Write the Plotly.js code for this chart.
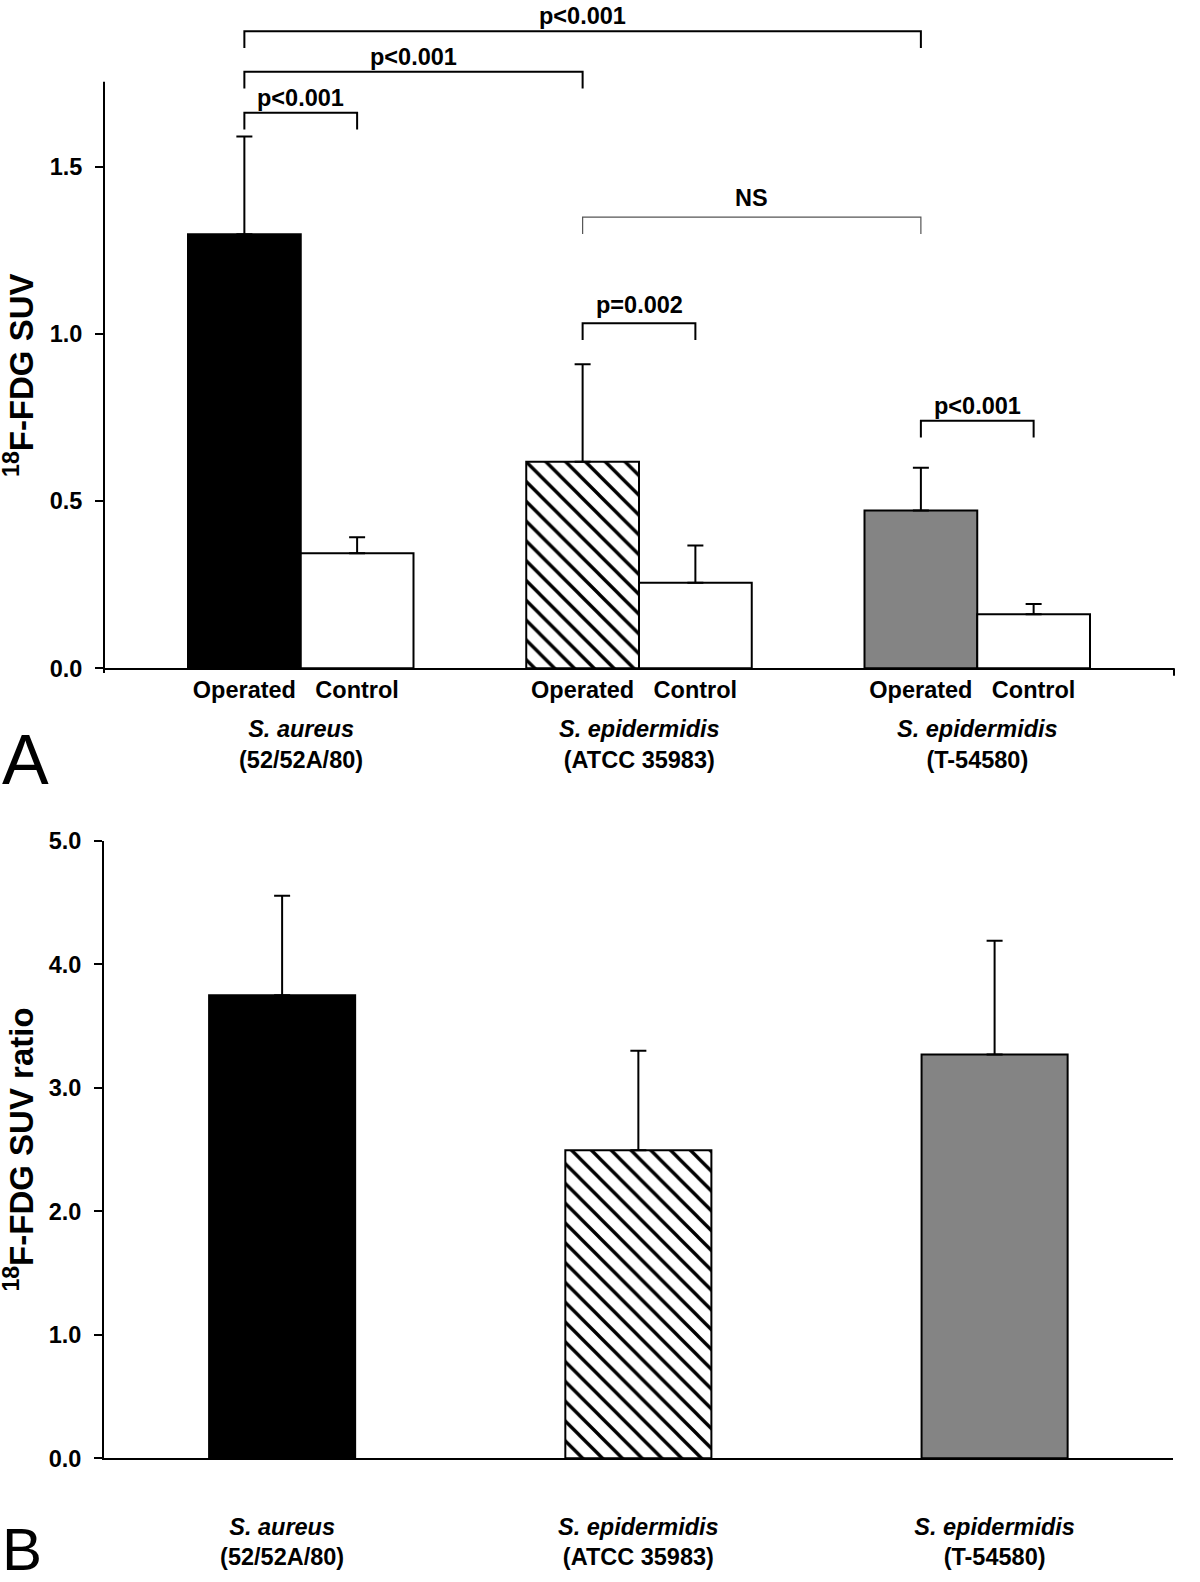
<!DOCTYPE html>
<html>
<head>
<meta charset="utf-8">
<script src="https://cdn.plot.ly/plotly-3.0.1.min.js"></script>
<style>
  body { margin: 0; background: #fff; }
  #chart { width: 1200px; height: 1582px; }
</style>
</head>
<body>
<div id="chart"></div>
<script>
// panel A: SUV per strain, operated vs control (mean, +SD)
var strains = ["<i>S. aureus</i><br>(52/52A/80)", "<i>S. epidermidis</i><br>(ATCC 35983)", "<i>S. epidermidis</i><br>(T-54580)"];
var operatedX = [0, 3, 6];
var controlX = [1, 4, 7];
var operatedSUV = [1.298, 0.618, 0.472];
var operatedSD = [0.292, 0.291, 0.128];
var controlSUV = [0.344, 0.256, 0.162];
var controlSD = [0.048, 0.111, 0.030];
var tickLabelsA = ["Operated", "Control", "Operated", "Control", "Operated", "Control"];

// panel B: SUV ratio (mean, +SD)
var ratioX = [0, 1, 2];
var ratioSUV = [3.75, 2.495, 3.27];
var ratioSD = [0.807, 0.807, 0.922];

// significance brackets (panel A): from bar, to bar, label
var bracketFrom = [0, 0, 0, 3, 3, 6];
var bracketTo = [6, 3, 1, 6, 4, 7];
var bracketText = ["p<0.001", "p<0.001", "p<0.001", "NS", "p=0.002", "p<0.001"];
var bracketLevel = [1.905, 1.784, 1.661, 1.349, 1.032, 0.740];
var labelLift = [0, 0, 0, 4, 3, 0];
var legLen = 0.05;

var fam = "Liberation Sans, Arial, Helvetica, sans-serif";
var boldFont = { family: fam, size: 23.5, color: "black", weight: "bold" };
var titleFont = { family: fam, size: 33, color: "black", weight: "bold" };

var yRangeA = [0, 1.9985];
var yAxisTopA = 1.754;

// fill per strain: black, hatched, grey
var strainColor = ["black", "white", "#848484"];
var strainHatch = ["", "\\", ""];
var errStyle = { color: "black", thickness: 2, width: 8 };

function strainBar(i, x, y, sd, w, xa, ya) {
   var marker = { color: strainColor[i], line: { color: "black", width: 2 } };
   if (strainHatch[i]) {
      marker.pattern = { shape: strainHatch[i], fgcolor: "black", bgcolor: "white", size: 14, solidity: 0.24 };
   }
   return {
      type: "bar",
      x: [x],
      y: [y],
      width: w,
      marker: marker,
      error_y: Object.assign({ type: "data", symmetric: false, array: [sd], arrayminus: [0] }, errStyle),
      xaxis: xa,
      yaxis: ya,
   };
}

var data = [];
for (var k = 0; k < strains.length; k++) {
   data.push(strainBar(k, operatedX[k], operatedSUV[k], operatedSD[k], 1, "x", "y"));
}
data.push({
   type: "bar",
   x: controlX,
   y: controlSUV,
   width: 1,
   marker: { color: "white", line: { color: "black", width: 2 } },
   error_y: Object.assign({ type: "data", symmetric: false, array: controlSD, arrayminus: [0, 0, 0] }, errStyle),
   xaxis: "x",
   yaxis: "y",
});
for (var m = 0; m < strains.length; m++) {
   data.push(strainBar(m, ratioX[m], ratioSUV[m], ratioSD[m], 0.41, "x2", "y2"));
}

var shapes = [
   // panel A y axis line (stops at yAxisTopA, small stub below 0)
   {
      type: "line", xref: "x domain", yref: "y domain",
      x0: 0, x1: 0, y0: -0.007, y1: yAxisTopA / yRangeA[1],
      line: { color: "black", width: 2 },
   },
   // stub at the right end of panel A x axis
   {
      type: "line", xref: "x domain", yref: "y domain",
      x0: 1, x1: 1, y0: -0.011, y1: 0,
      line: { color: "black", width: 2 },
   },
];
var annotations = [];

for (var i = 0; i < bracketFrom.length; i++) {
   var a = bracketFrom[i], b = bracketTo[i], lv = bracketLevel[i];
   var thin = bracketText[i] === "NS";
   shapes.push({
      type: "path", xref: "x", yref: "y",
      path: "M" + a + "," + (lv - legLen) + " L" + a + "," + lv + " L" + b + "," + lv + " L" + b + "," + (lv - legLen),
      line: { color: thin ? "#555" : "black", width: thin ? 1.2 : 2 },
   });
   annotations.push({
      xref: "x", yref: "y", x: (a + b) / 2, y: lv,
      xanchor: "center", yanchor: "bottom", yshift: labelLift[i],
      text: bracketText[i], showarrow: false, font: boldFont,
   });
}

// strain labels under panel A
for (var j = 0; j < strains.length; j++) {
   annotations.push({
      xref: "x", yref: "y", x: (operatedX[j] + controlX[j]) / 2, y: 0,
      xanchor: "center", yanchor: "middle", yshift: -76,
      text: strains[j], showarrow: false, font: boldFont,
   });
}

// y titles
var domA = [1 - 668.3 / 1582, 1];
var domB = [1 - 1458.3 / 1582, 1 - 841 / 1582];
var titleX = -0.0795;
annotations.push({
   xref: "paper", yref: "paper", x: titleX,
   y: domA[0] + (domA[1] - domA[0]) * (yAxisTopA / yRangeA[1]) / 2,
   xanchor: "center", yanchor: "middle", textangle: -90,
   text: "<sup>18</sup>F-FDG SUV", showarrow: false, font: titleFont,
});
annotations.push({
   xref: "paper", yref: "paper", x: titleX, y: (domB[0] + domB[1]) / 2,
   xanchor: "center", yanchor: "middle", textangle: -90,
   text: "<sup>18</sup>F-FDG SUV ratio", showarrow: false, font: titleFont,
});

// panel letters
annotations.push({
   xref: "paper", yref: "paper", x: -0.097, y: 0.5196, xanchor: "left", yanchor: "middle",
   text: "A", showarrow: false, font: { family: fam, size: 70, color: "black" },
});
annotations.push({
   xref: "paper", yref: "paper", x: -0.097, y: 0, xanchor: "left", yanchor: "bottom", yshift: -3,
   text: "B", showarrow: false, font: { family: fam, size: 60, color: "black" },
});

var layout = {
   width: 1200,
   height: 1582,
   margin: { l: 104, r: 26, t: 0, b: 0 },
   paper_bgcolor: "white",
   plot_bgcolor: "white",
   showlegend: false,
   barmode: "overlay",
   xaxis: {
      domain: [0, 1],
      anchor: "y",
      range: [-1.245, 8.245],
      showline: true, linecolor: "black", linewidth: 2,
      showgrid: false, zeroline: false,
      tickvals: operatedX.concat(controlX).sort(function (p, q) { return p - q; }),
      ticktext: tickLabelsA,
      ticks: "",
      ticklabelstandoff: -1,
      tickfont: boldFont,
   },
   yaxis: {
      domain: domA,
      anchor: "x",
      range: yRangeA,
      showline: false,
      showgrid: false, zeroline: false,
      tickvals: [0, 0.5, 1, 1.5],
      tickformat: ".1f",
      ticks: "outside", ticklen: 8, tickwidth: 2, tickcolor: "black",
      ticklabelstandoff: 8,
      tickfont: boldFont,
   },
   xaxis2: {
      domain: [0, 0.9988],
      anchor: "y2",
      range: [-0.5, 2.5],
      showline: true, linecolor: "black", linewidth: 2,
      showgrid: false, zeroline: false,
      tickvals: ratioX,
      ticktext: strains,
      ticks: "",
      ticklabelstandoff: 46,
      tickfont: boldFont,
   },
   yaxis2: {
      domain: domB,
      anchor: "x2",
      range: [0, 5],
      showline: true, linecolor: "black", linewidth: 2,
      showgrid: false, zeroline: false,
      tickvals: [0, 1, 2, 3, 4, 5],
      tickformat: ".1f",
      ticks: "outside", ticklen: 8, tickwidth: 2, tickcolor: "black",
      ticklabelstandoff: 8,
      tickfont: boldFont,
   },
   shapes: shapes,
   annotations: annotations,
};

Plotly.newPlot("chart", data, layout, { displayModeBar: false, staticPlot: true });
</script>
</body>
</html>
